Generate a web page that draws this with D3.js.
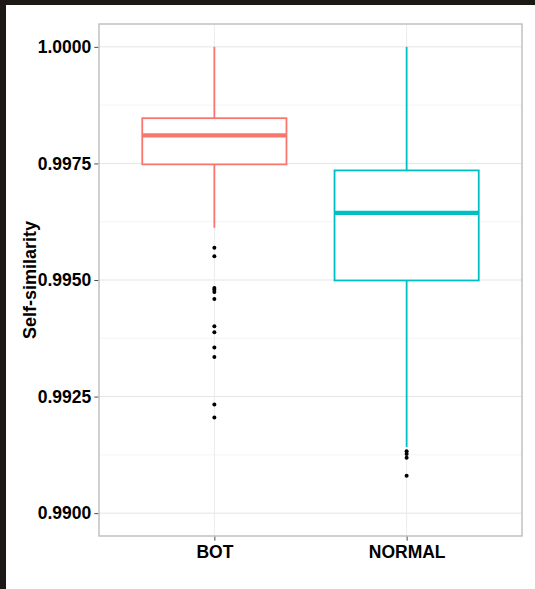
<!DOCTYPE html>
<html>
<head>
<meta charset="utf-8">
<script src="https://cdn.jsdelivr.net/npm/d3@7"></script>
<style>
  html, body { margin: 0; padding: 0; background: #ffffff; }
  svg { display: block; }
</style>
</head>
<body>
<script>
// Box-plot summary of self-similarity per account class
const categories = ["BOT", "NORMAL"];
const q1Values = [0.99748, 0.99499];
const medianValues = [0.99810, 0.99644];
const q3Values = [0.99847, 0.99735];
const whiskerLow = [0.99612, 0.99142];
const whiskerHigh = [1.0000, 1.0000];
const outliersBot = [0.99569, 0.99551, 0.99483, 0.99479, 0.99474, 0.99459,
                     0.99401, 0.99388, 0.99355, 0.99335, 0.99233, 0.99205];
const outliersNormal = [0.99133, 0.99127, 0.99119, 0.99080];
const yTicks = [0.9900, 0.9925, 0.9950, 0.9975, 1.0000];
const yMinorTicks = [0.99125, 0.99375, 0.99625, 0.99875];
const yDomain = [0.98951, 1.00049];
const colors = ["#F8766D", "#00BFC4"];

const W = 535, H = 589;
const panel = { left: 99, top: 24, right: 522, bottom: 536 };

const svg = d3.select("body").append("svg")
  .attr("width", W).attr("height", H);

// dark frame strips along the top and left edge
svg.append("rect").attr("x", 0).attr("y", 0).attr("width", W).attr("height", 5).attr("fill", "#1c1813");
svg.append("rect").attr("x", 0).attr("y", 0).attr("width", 6).attr("height", H).attr("fill", "#1c1813");

const x = d3.scalePoint().domain(categories)
  .range([panel.left, panel.right]).padding(0.6);
const y = d3.scaleLinear().domain(yDomain).range([panel.bottom, panel.top]);
const boxW = x.step() * 0.75;

const font = "'Liberation Sans', Arial, sans-serif";

// grid
const grid = svg.append("g");
grid.selectAll("line.minor").data(yMinorTicks).join("line")
  .attr("x1", panel.left).attr("x2", panel.right)
  .attr("y1", d => y(d)).attr("y2", d => y(d))
  .attr("stroke", "#f4f4f4").attr("stroke-width", 1);
grid.selectAll("line.major").data(yTicks).join("line")
  .attr("x1", panel.left).attr("x2", panel.right)
  .attr("y1", d => y(d)).attr("y2", d => y(d))
  .attr("stroke", "#e5e5e5").attr("stroke-width", 1);
grid.selectAll("line.vmajor").data(categories).join("line")
  .attr("x1", d => x(d)).attr("x2", d => x(d))
  .attr("y1", panel.top).attr("y2", panel.bottom)
  .attr("stroke", "#ebebeb").attr("stroke-width", 1);

// box plots
const data = categories.map((c, i) => ({
  cat: c, q1: q1Values[i], med: medianValues[i], q3: q3Values[i],
  lo: whiskerLow[i], hi: whiskerHigh[i], color: colors[i],
  out: i === 0 ? outliersBot : outliersNormal
}));

const boxes = svg.append("g").selectAll("g").data(data).join("g");
boxes.append("line")
  .attr("x1", d => x(d.cat)).attr("x2", d => x(d.cat))
  .attr("y1", d => y(d.hi)).attr("y2", d => y(d.q3))
  .attr("stroke", d => d.color).attr("stroke-width", 1.8);
boxes.append("line")
  .attr("x1", d => x(d.cat)).attr("x2", d => x(d.cat))
  .attr("y1", d => y(d.q1)).attr("y2", d => y(d.lo))
  .attr("stroke", d => d.color).attr("stroke-width", 1.8);
boxes.append("rect")
  .attr("x", d => x(d.cat) - boxW / 2).attr("width", boxW)
  .attr("y", d => y(d.q3)).attr("height", d => y(d.q1) - y(d.q3))
  .attr("fill", "#ffffff").attr("stroke", d => d.color).attr("stroke-width", 1.8);
boxes.append("line")
  .attr("x1", d => x(d.cat) - boxW / 2).attr("x2", d => x(d.cat) + boxW / 2)
  .attr("y1", d => y(d.med)).attr("y2", d => y(d.med))
  .attr("stroke", d => d.color).attr("stroke-width", 4.2);
boxes.selectAll("circle").data(d => d.out.map(v => ({ cat: d.cat, v }))).join("circle")
  .attr("cx", d => x(d.cat)).attr("cy", d => y(d.v)).attr("r", 2)
  .attr("fill", "#000000");

// panel border
svg.append("rect")
  .attr("x", panel.left).attr("y", panel.top)
  .attr("width", panel.right - panel.left).attr("height", panel.bottom - panel.top)
  .attr("fill", "none").attr("stroke", "#bdbdbd").attr("stroke-width", 1.4);

// axes
const yAxis = d3.axisLeft(y).tickValues(yTicks).tickFormat(d3.format(".4f"))
  .tickSize(4).tickPadding(3);
const gy = svg.append("g").attr("transform", `translate(${panel.left - 0.7},0)`).call(yAxis);
gy.select(".domain").remove();
gy.selectAll(".tick line").attr("stroke", "#4d4d4d");
gy.selectAll(".tick text").attr("fill", "#000").attr("font-family", font)
  .attr("font-weight", "bold").attr("font-size", 17.5);

const xAxis = d3.axisBottom(x).tickSize(4).tickPadding(5);
const gx = svg.append("g").attr("transform", `translate(0,${panel.bottom + 0.7})`).call(xAxis);
gx.select(".domain").remove();
gx.selectAll(".tick line").attr("stroke", "#4d4d4d");
gx.selectAll(".tick text").attr("fill", "#000").attr("font-family", font)
  .attr("font-weight", "bold").attr("font-size", 17.5);

// y-axis title
svg.append("text")
  .attr("transform", `translate(36,${(panel.top + panel.bottom) / 2}) rotate(-90)`)
  .attr("text-anchor", "middle")
  .attr("font-family", font).attr("font-weight", "bold").attr("font-size", 18)
  .attr("fill", "#000")
  .text("Self-similarity");
</script>
</body>
</html>
